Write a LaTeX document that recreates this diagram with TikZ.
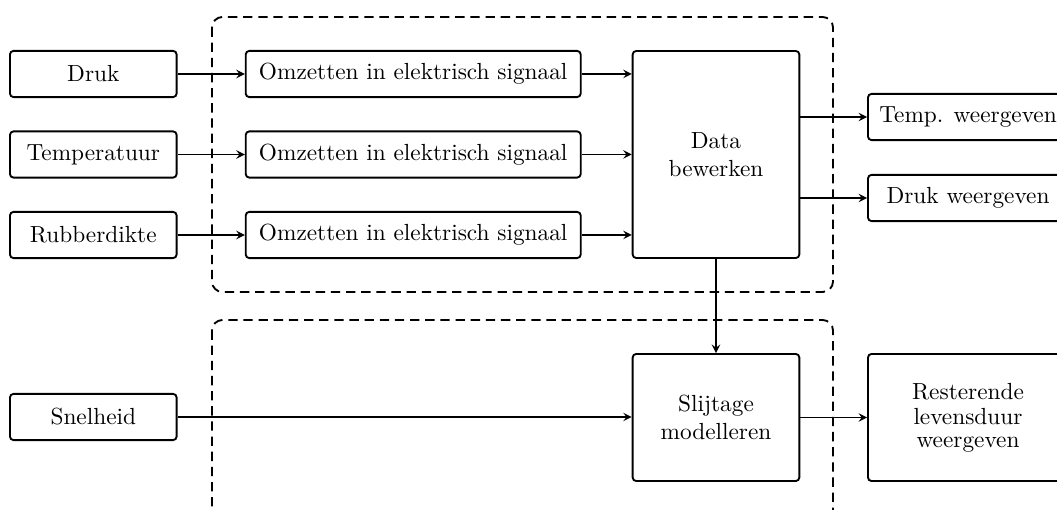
\documentclass[tikz,border=0pt]{standalone}
\usetikzlibrary{arrows}
\tikzset{
	blok/.style={draw, thick, rounded corners=1.5pt, minimum height=19.8pt, align=center, inner sep=2pt},
	pijl/.style={semithick, ->, >=stealth},
	groep/.style={thick, dash pattern=on 4pt off 2.5pt, rounded corners=4.5pt}
}
\begin{document}
\begin{tikzpicture}[x=0.429pt, y=-0.429pt]
		\useasboundingbox (0,0) rectangle (1057,510);
		% Groepen
		\draw[groep] (212,17) rectangle (833,292);
		\draw[groep] (212,320) rectangle (833,580);
		
		% Sensoren
		\node[blok, minimum width=71.5pt] (druk) at (93.3,74) {Druk};
		\node[blok, minimum width=71.5pt] (temp) at (93.3,154.5) {Temperatuur};
		\node[blok, minimum width=71.5pt] (rubber) at (93.3,235) {Rubberdikte};
		\node[blok, minimum width=71.5pt] (snel) at (93.3,417) {Snelheid};
		
		% Omzetten
		\node[blok, minimum width=143.7pt] (om1) at (413.2,74) {Omzetten in elektrisch signaal};
		\node[blok, minimum width=143.7pt] (om2) at (413.2,154.5) {Omzetten in elektrisch signaal};
		\node[blok, minimum width=143.7pt] (om3) at (413.2,235) {Omzetten in elektrisch signaal};
		
		% Verwerking
		\node[blok, minimum width=71.5pt, minimum height=88.8pt] (data) at (716,154.5) {Data\\bewerken};
		\node[blok, minimum width=71.5pt, minimum height=54.5pt] (slijt) at (716,417.5) {Slijtage\\modelleren};
		
		% Weergeven
		\node[blok, minimum width=85.8pt] (tw) at (968,117) {Temp. weergeven};
		\node[blok, minimum width=85.8pt] (dw) at (968,198) {Druk weergeven};
		\node[blok, minimum width=85.8pt, minimum height=54.5pt] (rest) at (968,417.5) {Resterende\\[-1pt]levensduur\\[-2.5pt]weergeven};
		
		\draw[pijl] (druk) -- (om1);
		\draw[pijl] (temp) -- (om2);
		\draw[pijl] (rubber) -- (om3);
		\draw[pijl] (om1.east) -- (om1.east -| data.west);
		\draw[pijl] (om2.east) -- (om2.east -| data.west);
		\draw[pijl] (om3.east) -- (om3.east -| data.west);
		\draw[pijl] (tw.west -| data.east) -- (tw.west);
		\draw[pijl] (dw.west -| data.east) -- (dw.west);
		\draw[pijl] (data.south) -- (slijt.north);
		\draw[pijl] (snel.east) -- (snel.east -| slijt.west);
		\draw[pijl] (slijt.east) -- (rest.west);
\end{tikzpicture}
\end{document}
